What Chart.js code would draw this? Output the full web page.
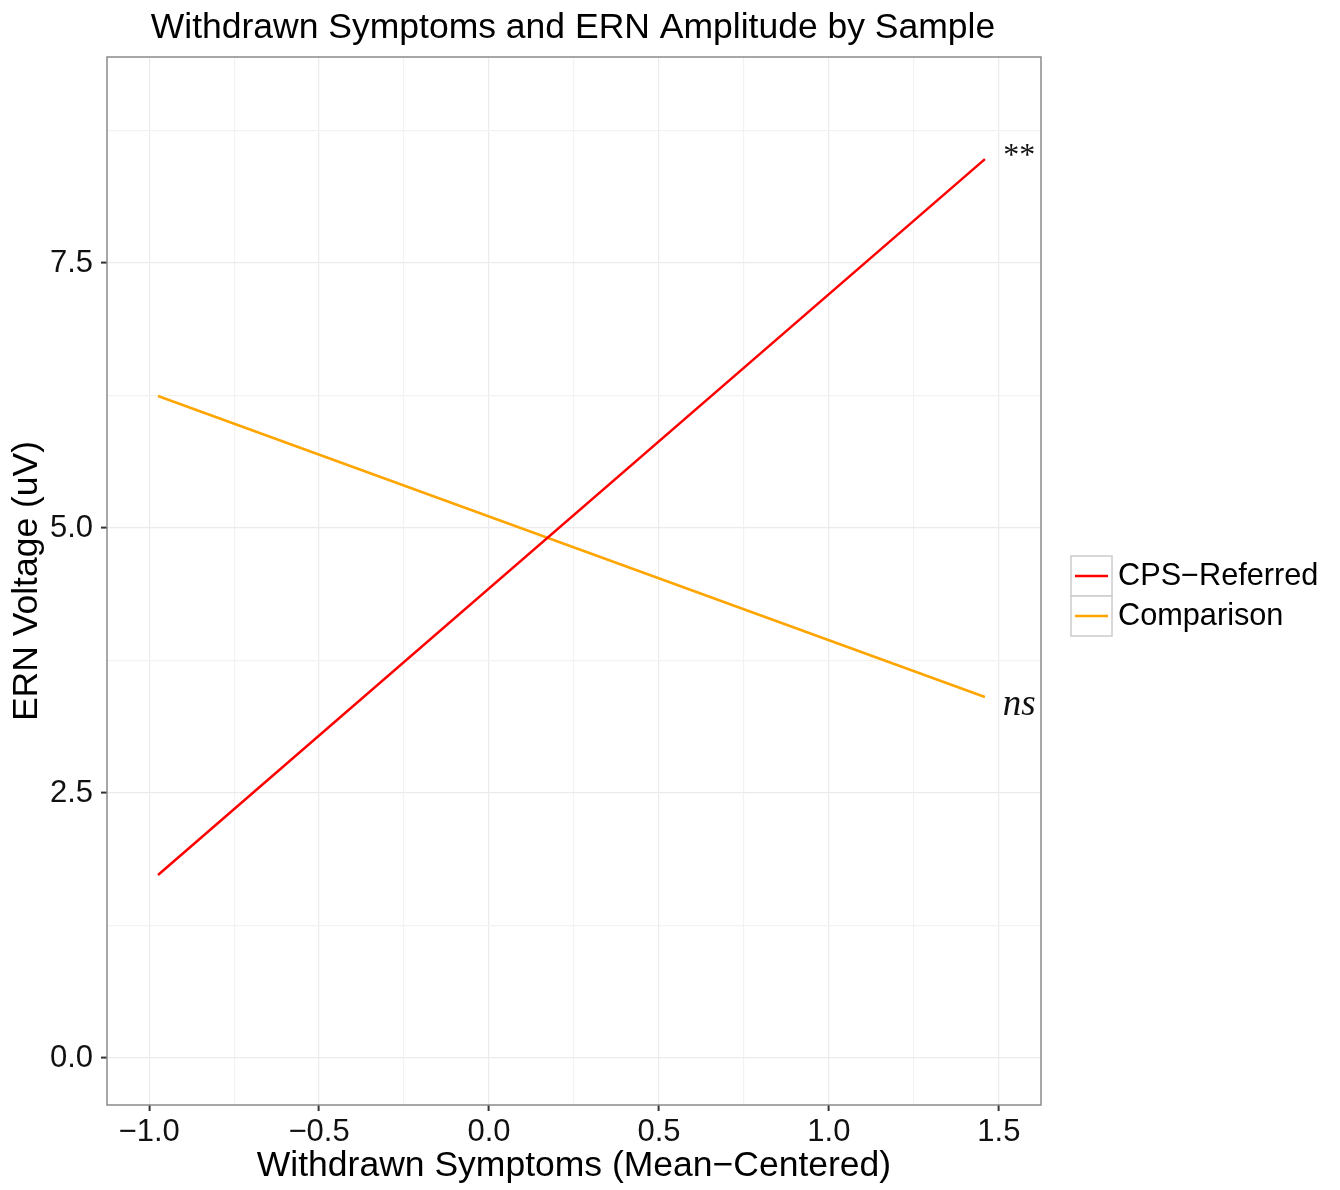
<!DOCTYPE html>
<html>
<head>
<meta charset="utf-8">
<script src="https://cdn.jsdelivr.net/npm/chart.js@4.4.0/dist/chart.umd.min.js"></script>
<style>
html,body{margin:0;padding:0;background:#fff;}
#wrap{width:1340px;height:1190px;position:relative;}
</style>
</head>
<body>
<div id="wrap"><canvas id="c" width="1340" height="1190"></canvas></div>
<script>
// ---- data ----
const chartTitle = "Withdrawn Symptoms and ERN Amplitude by Sample";
const xTitle = "Withdrawn Symptoms (Mean\u2212Centered)";
const yTitle = "ERN Voltage (uV)";
const seriesNames = ["CPS\u2212Referred", "Comparison"];
const xValues = [-0.974, 1.459];
const cpsValues = [1.726, 8.48];
const comparisonValues = [6.245, 3.406];
const xTicks = [-1.0, -0.75, -0.5, -0.25, 0.0, 0.25, 0.5, 0.75, 1.0, 1.25, 1.5];
const yTicks = [0.0, 1.25, 2.5, 3.75, 5.0, 6.25, 7.5, 8.75];
const xMajor = [-1.0, -0.5, 0.0, 0.5, 1.0, 1.5];
const yMajor = [0.0, 2.5, 5.0, 7.5];
const annLabels = ["**", "ns"];
const annX = [1.56, 1.56];
const annY = [8.57, 3.31];

const colors = ["#ff0000", "#ffa500"];
const isMaj = (list, v) => list.some(m => Math.abs(m - v) < 1e-9);
const fmt = v => { const s = v.toFixed(1); return v < 0 ? "\u2212" + s.slice(1) : s; };
const SANS = '"Liberation Sans", Arial, sans-serif';

const frameAndExtras = {
  id: 'extras',
  afterDraw(chart) {
    const ctx = chart.ctx, a = chart.chartArea;
    const xs = chart.scales.x, ys = chart.scales.y;
    ctx.save();
    // panel border
    ctx.strokeStyle = '#8a8a8a';
    ctx.lineWidth = 1.5;
    ctx.strokeRect(a.left, a.top, a.right - a.left, a.bottom - a.top);
    // title
    ctx.fillStyle = '#000';
    ctx.font = '35.5px ' + SANS;
    ctx.textAlign = 'center';
    ctx.textBaseline = 'middle';
    ctx.fillText(chartTitle, (a.left + a.right) / 2 - 1, 28);
    // annotations
    ctx.fillStyle = '#111';
    annLabels.forEach((t, i) => {
      if (t === 'ns') {
        ctx.font = 'italic 37px "Liberation Serif", "DejaVu Serif", serif';
        ctx.fillText(t, xs.getPixelForValue(annX[i]), ys.getPixelForValue(annY[i]) - 2);
      } else {
        ctx.font = '32px "Liberation Serif", "DejaVu Serif", serif';
        ctx.fillText(t, xs.getPixelForValue(annX[i]), ys.getPixelForValue(annY[i]) + 7);
      }
    });
    // legend
    const lx = 1071, ly = 556, kw = 41, kh = 40;
    chart.data.datasets.forEach((ds, i) => {
      const y0 = ly + i * kh;
      ctx.fillStyle = '#fff';
      ctx.fillRect(lx, y0, kw, kh);
      ctx.strokeStyle = '#cccccc';
      ctx.lineWidth = 1.5;
      ctx.strokeRect(lx, y0, kw, kh);
      ctx.strokeStyle = ds.borderColor;
      ctx.lineWidth = 2.6;
      ctx.beginPath();
      ctx.moveTo(lx + 4, y0 + kh / 2);
      ctx.lineTo(lx + kw - 4, y0 + kh / 2);
      ctx.stroke();
      ctx.fillStyle = '#000';
      ctx.font = '30.7px ' + SANS;
      ctx.textAlign = 'left';
      ctx.textBaseline = 'middle';
      ctx.fillText(ds.label, lx + kw + 6, y0 + kh / 2 + 1);
    });
    ctx.restore();
  }
};

new Chart(document.getElementById('c'), {
  type: 'scatter',
  data: {
    datasets: [
      { label: seriesNames[0], data: xValues.map((x, i) => ({x, y: cpsValues[i]})), borderColor: colors[0], backgroundColor: colors[0], showLine: true, borderWidth: 2.5, pointRadius: 0 },
      { label: seriesNames[1], data: xValues.map((x, i) => ({x, y: comparisonValues[i]})), borderColor: colors[1], backgroundColor: colors[1], showLine: true, borderWidth: 2.5, pointRadius: 0 }
    ]
  },
  options: {
    responsive: false,
    animation: false,
    layout: { padding: { left: 0, right: 299, top: 57, bottom: 0 } },
    plugins: { legend: { display: false }, title: { display: false }, tooltip: { enabled: false } },
    scales: {
      x: {
        type: 'linear', min: -1.124, max: 1.624,
        afterBuildTicks: s => { s.ticks = xTicks.map(v => ({value: v})); },
        afterFit: s => { s.height = 85; },
        border: { display: false },
        grid: {
          color: c => isMaj(xMajor, c.tick.value) ? '#ebebeb' : '#f2f2f2',
          lineWidth: 1.2,
          tickColor: c => isMaj(xMajor, c.tick.value) ? '#333' : 'rgba(0,0,0,0)',
          tickLength: 6, tickWidth: 2
        },
        ticks: {
          autoSkip: false, maxRotation: 0, padding: 3, color: '#111',
          font: { size: 31, family: SANS },
          callback: v => isMaj(xMajor, v) ? fmt(v) : ''
        },
        title: { display: true, text: xTitle, color: '#000', padding: 2, font: { size: 35.5, family: SANS } }
      },
      y: {
        type: 'linear', min: -0.443, max: 9.443,
        afterBuildTicks: s => { s.ticks = yTicks.map(v => ({value: v})); },
        afterFit: s => { s.width = 107; },
        border: { display: false },
        grid: {
          color: c => isMaj(yMajor, c.tick.value) ? '#ebebeb' : '#f2f2f2',
          lineWidth: 1.2,
          tickColor: c => isMaj(yMajor, c.tick.value) ? '#333' : 'rgba(0,0,0,0)',
          tickLength: 6, tickWidth: 2
        },
        ticks: {
          autoSkip: false, padding: 8, color: '#111',
          font: { size: 31, family: SANS },
          callback: v => isMaj(yMajor, v) ? fmt(v) : ''
        },
        title: { display: true, text: yTitle, color: '#000', padding: 6, font: { size: 35.5, family: SANS } }
      }
    }
  },
  plugins: [frameAndExtras]
});
</script>
</body>
</html>
